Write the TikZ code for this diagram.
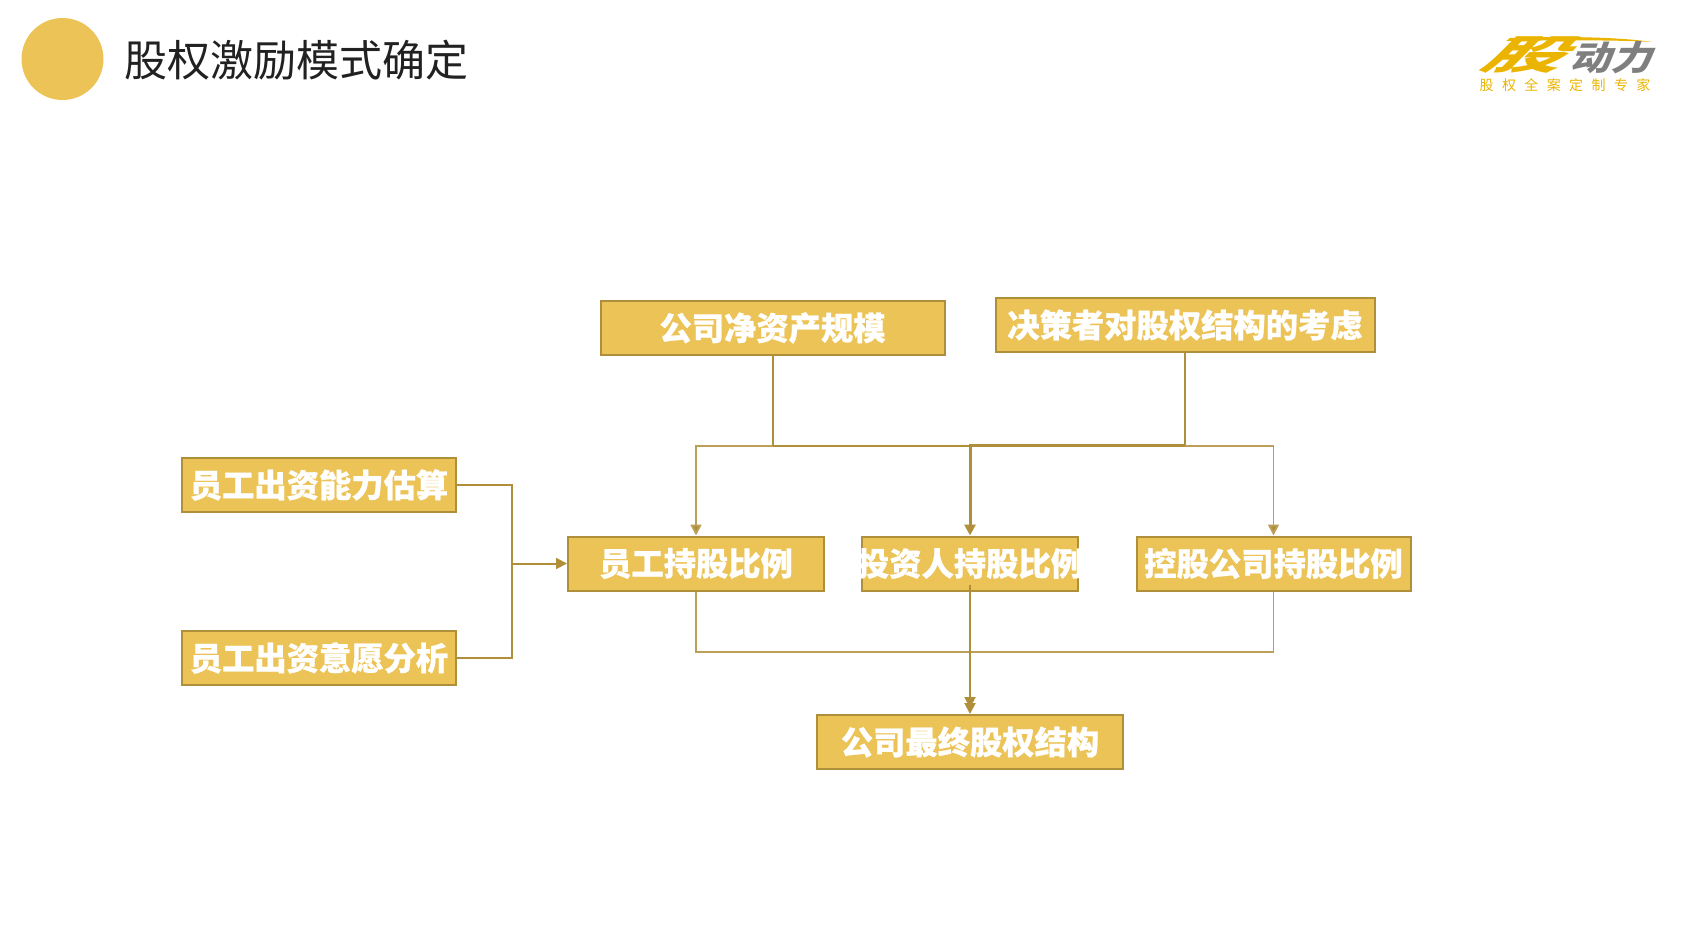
\documentclass[tikz,border=0pt]{standalone}
\usepackage{fontspec}
\setmainfont{Noto Sans CJK SC}
\usetikzlibrary{positioning, arrows.meta}
\definecolor{boxfill}{HTML}{ECC356}
\definecolor{boxline}{HTML}{B08F3A}
\definecolor{logoyellow}{HTML}{EBB400}
\definecolor{logogray}{HTML}{7F7F7F}
\begin{document}
\begin{tikzpicture}[x=1pt, y=-1pt, b/.style={draw=boxline, fill=boxfill, line width=2pt, minimum height=54pt, inner sep=0pt, text=white, font=\fontsize{32.3}{32.3}\selectfont\bfseries\addfontfeature{FakeBold=0.6}}, l/.style={draw=boxline, line width=2pt}, t/.style={draw=boxline!85, line width=1.8pt}, a/.style={-{Triangle[length=11pt, width=11pt, fill=boxline]}}]
		\useasboundingbox (0,0) rectangle (1703,939);

		\node[circle, fill=boxfill, minimum size=82pt, inner sep=0pt] (dot) at (62.5,59) {};
		\node[right=17pt of dot, yshift=-1pt, font=\fontsize{43}{43}\selectfont, text=black!87] (title) {股权激励模式确定};

		\node[b, minimum width=344pt] (assets) at (772.5,328) {公司净资产规模};
		\node[b, minimum width=379pt] (decider) at (1185,325) {决策者对股权结构的考虑};
		\node[b, minimum width=274pt] (ability) at (319,485) {员工出资能力估算};
		\node[b, minimum width=274pt, below=117pt of ability] (willing) {员工出资意愿分析};
		\node[b, minimum width=256pt] (staff) at (696,563.5) {员工持股比例};
		\node[b, minimum width=216pt, right=36pt of staff] (investor) {\makebox[0pt]{投资人持股比例}};
		\node[b, minimum width=274pt, right=56.5pt of investor] (holding) {控股公司持股比例};
		\node[b, minimum width=306pt, below=122.5pt of investor] (final) {公司最终股权结构};

		\coordinate (upbus) at (0,446);
		\coordinate (upbusb) at (0,445);
		\coordinate (lowbus) at (0,652);
		\coordinate[left=55pt of staff.west] (join);
		\coordinate[above=7pt of investor.south] (inner);

		\draw[l] (assets.south) -- (assets.south |- upbus);
		\draw[t, a] (assets.south |- upbus) -| (staff.north);
		\draw[l] (assets.south |- upbus) -- (investor.north |- upbus);
		\draw[l] (decider.south) -- (decider.south |- upbusb);
		\draw[l, line width=3pt, a] (decider.south |- upbusb) -| (investor.north);
		\draw[t, a] (decider.south |- upbus) -| (holding.north);

		\draw[t] (staff.south) |- (lowbus -| holding.south) -- (holding.south);
		\draw[l, a, shorten >=6pt] (inner) -- (final.north);
		\draw[l, a] (investor.south |- lowbus) -- (final.north);

		\draw[l] (ability.east) -| (join) |- (willing.east);
		\draw[l, a] (join) -- (staff.west);

		\fill[logoyellow] (1652,42) .. controls (1620,37) and (1560,36) .. (1510,38) -- (1506,41) .. controls (1560,40) and (1620,40) .. (1652,42) -- cycle;
		\node[text=logoyellow, inner sep=0pt, xscale=2, xslant=.5, transform shape, font=\fontsize{40}{40}\selectfont\bfseries] (mark) at (1533,55) {股};
		\node[text=logogray, inner sep=0pt, xscale=1.2, xslant=.3, transform shape, font=\fontsize{34}{34}\selectfont\bfseries] (brand) at (1615,58) {动力};
		\node[text=logoyellow, font=\fontsize{14}{14}\selectfont\addfontfeature{LetterSpace=60}] (slogan) at (1565,85) {股权全案定制专家};
	\end{tikzpicture}
\end{document}
